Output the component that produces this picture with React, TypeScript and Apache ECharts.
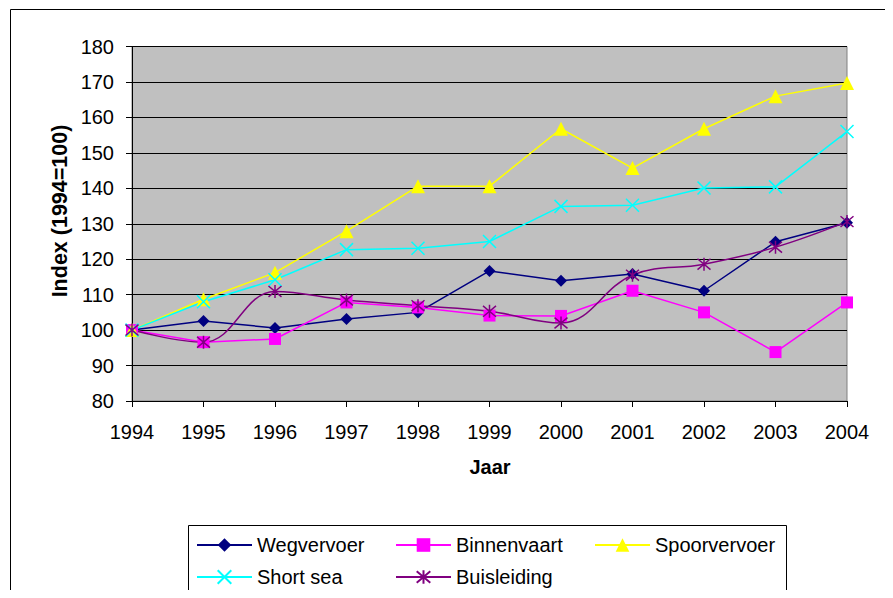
import React, { useEffect, useRef } from "react";
import * as echarts from "echarts";

const years = ["1994", "1995", "1996", "1997", "1998", "1999", "2000", "2001", "2002", "2003", "2004"];
const wegvervoer = [100, 102.6, 100.6, 103.1, 105, 116.7, 113.9, 115.8, 111.1, 124.9, 130.3];
const binnenvaart = [100, 96.6, 97.5, 107.8, 106.4, 104.1, 104, 111.1, 105, 93.8, 107.8];
const spoorvervoer = [100, 108.7, 116.2, 127.9, 140.6, 140.6, 156.8, 145.7, 156.8, 166, 169.7];
const shortSea = [100, 108, 114.2, 122.7, 123.1, 125, 134.9, 135.2, 140.1, 140.4, 156];
const buisleiding = [100, 96.6, 110.9, 108.5, 106.9, 105.3, 102, 115.5, 118.6, 123.4, 130.6];

const FONT = "'Liberation Sans', Arial, sans-serif";

const CROSS = "path://M0,0L10,10M10,0L0,10";
const STAR = "path://M0,0L10,10M10,0L0,10M5,-1L5,11";

export default function App() {
  const ref = useRef<HTMLDivElement>(null);
  useEffect(() => {
    if (!ref.current) return;
    const chart = echarts.init(ref.current, undefined, { renderer: "svg" });
    const mk = (name: string, data: number[], color: string, symbol: string, size: number, extra: any = {}) => ({
      name,
      type: "line",
      data,
      symbol,
      symbolSize: size,
      showSymbol: true,
      lineStyle: { color, width: 1.5 },
      itemStyle: { color, borderColor: color, borderWidth: symbol.startsWith("path") ? 1.5 : 0 },
      emphasis: { disabled: true },
      ...extra,
    });
    const legendItem = (name: string, left: number, top: number) => ({
      show: true,
      data: [name],
      left,
      top,
      orient: "horizontal",
      padding: 0,
      itemWidth: 55,
      itemHeight: 17,
      itemGap: 0,
      selectedMode: false,
      textStyle: { fontFamily: FONT, fontSize: 20, color: "#000", lineHeight: 22, padding: [0, 0, 0, 0] },
    });
    chart.setOption({
      animation: false,
      backgroundColor: "#fff",
      textStyle: { fontFamily: FONT },
      grid: {
        left: 132,
        right: 46,
        top: 46.5,
        bottom: 197,
        show: true,
        backgroundColor: "#C0C0C0",
        borderColor: "#808080",
        borderWidth: 1,
      },
      xAxis: {
        type: "category",
        data: years,
        boundaryGap: false,
        axisLine: { lineStyle: { color: "#000", width: 1 } },
        axisTick: { show: true, length: 6, lineStyle: { color: "#000" } },
        axisLabel: { fontFamily: FONT, fontSize: 20, color: "#000", margin: 21 },
        splitLine: { show: false },
      },
      yAxis: {
        type: "value",
        min: 80,
        max: 180,
        interval: 10,
        axisLine: { show: true, lineStyle: { color: "#000", width: 1 } },
        axisTick: { show: true, length: 6, lineStyle: { color: "#000" } },
        axisLabel: { fontFamily: FONT, fontSize: 20, color: "#000", margin: 18 },
        splitLine: { show: true, lineStyle: { color: "#000", width: 1 } },
      },
      legend: [
        legendItem("Wegvervoer", 196, 534),
        legendItem("Binnenvaart", 395, 534),
        legendItem("Spoorvervoer", 594, 534),
        legendItem("Short sea", 196, 566),
        legendItem("Buisleiding", 395, 566),
      ],
      graphic: [
        {
          type: "rect",
          z: -10,
          shape: { x: 10.5, y: 9.5, width: 900, height: 600 },
          style: { fill: "none", stroke: "#000", lineWidth: 1 },
          silent: true,
        },
        {
          type: "rect",
          z: -10,
          shape: { x: 188.5, y: 525.5, width: 598, height: 71 },
          style: { fill: "none", stroke: "#000", lineWidth: 1 },
          silent: true,
        },
        {
          type: "text",
          x: 60,
          y: 211,
          rotation: Math.PI / 2,
          style: {
            text: "Index (1994=100)",
            fontFamily: FONT,
            fontSize: 21.5,
            fontWeight: "bold",
            fill: "#000",
            align: "center",
            verticalAlign: "middle",
          },
          silent: true,
        },
        {
          type: "text",
          x: 490,
          y: 467,
          style: {
            text: "Jaar",
            fontFamily: FONT,
            fontSize: 20,
            fontWeight: "bold",
            fill: "#000",
            align: "center",
            verticalAlign: "middle",
          },
          silent: true,
        },
      ],
      series: [
        mk("Wegvervoer", wegvervoer, "#000080", "diamond", 12),
        mk("Binnenvaart", binnenvaart, "#FF00FF", "rect", 12),
        mk("Spoorvervoer", spoorvervoer, "#FFFF00", "triangle", 14),
        mk("Short sea", shortSea, "#00FFFF", CROSS, 13),
        mk("Buisleiding", buisleiding, "#800080", STAR, 13, { smooth: 0.4 }),
      ],
    });
    return () => chart.dispose();
  }, []);
  return <div ref={ref} style={{ width: 893, height: 598, margin: -8 }} />;
}
